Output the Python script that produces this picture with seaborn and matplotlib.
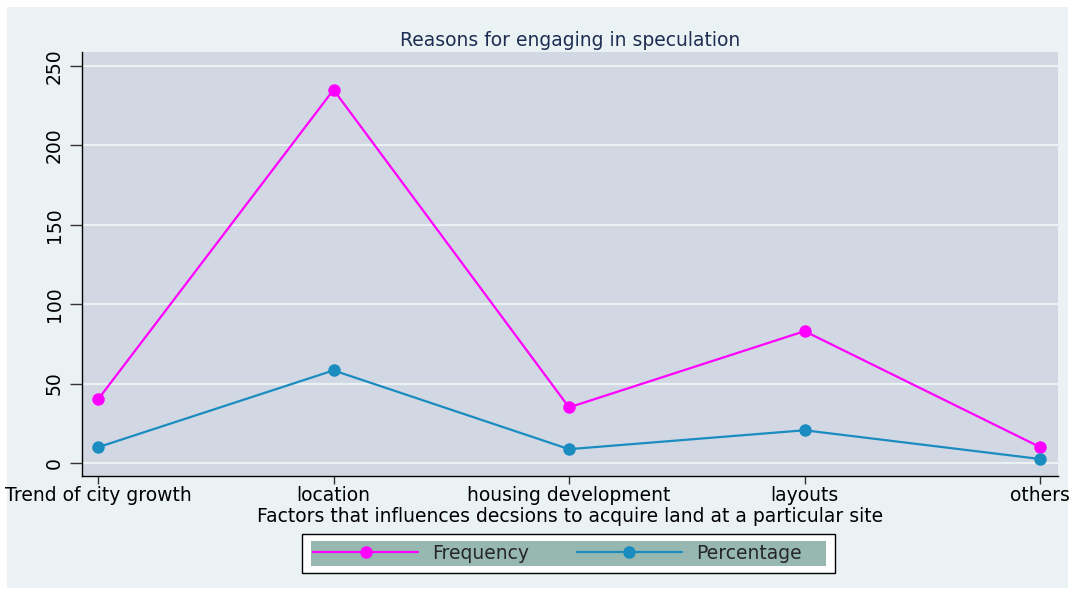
import matplotlib
matplotlib.use("Agg")
import matplotlib.pyplot as plt
from matplotlib.patches import Rectangle
from matplotlib.lines import Line2D
import seaborn as sns
import pandas as pd

# data
factors = ["Trend of city growth", "location", "housing development", "layouts", "others"]
frequency = [40, 235, 35, 83, 10]
percentage = [9.9, 58.3, 8.7, 20.6, 2.5]
series_names = ["Frequency", "Percentage"]
y_ticks = [0, 50, 100, 150, 200, 250]

df = pd.DataFrame({
    "factor": factors * 2,
    "value": frequency + percentage,
    "series": [series_names[0]] * len(factors) + [series_names[1]] * len(factors),
})

sns.set_theme(style="white")
plt.rcParams["font.family"] = ["DejaVu Sans"]
fs = 13.5

outer_bg = "#EAF2F3"
plot_bg = "#D1D8E3"
colors = {"Frequency": "#FF00FF", "Percentage": "#1A8CC0"}

fig = plt.figure(figsize=(10.75, 5.95), dpi=100)
fig.patch.set_facecolor("white")
fig.patches.append(Rectangle((7 / 1075, 7 / 595), 1061 / 1075, 581 / 595,
                             transform=fig.transFigure, facecolor=outer_bg,
                             edgecolor="none", zorder=-10))

ax = fig.add_axes([82 / 1075, 1 - 476 / 595, (1058 - 82) / 1075, (476 - 52) / 595])
ax.set_facecolor(plot_bg)

sns.lineplot(data=df, x="factor", y="value", hue="series", palette=colors,
             marker="o", markersize=9, markeredgewidth=0, linewidth=1.6,
             sort=False, ax=ax, legend=False)

ax.set_xlim(-0.068, 4.076)
ax.set_ylim(-8.2, 258.8)
ax.set_yticks(y_ticks)
ax.set_yticklabels([str(t) for t in y_ticks], rotation=90, va="center")
ax.grid(axis="y", color=outer_bg, linewidth=1.5)
ax.grid(axis="x", visible=False)
ax.set_axisbelow(True)

for s in ["top", "right"]:
    ax.spines[s].set_visible(False)
for s in ["left", "bottom"]:
    ax.spines[s].set_color("black")
    ax.spines[s].set_linewidth(1.0)

ax.tick_params(axis="both", which="major", width=1, color="#333333",
               labelsize=fs, labelcolor="black", bottom=True, left=True)
ax.tick_params(axis="x", length=6, pad=1.5)
ax.tick_params(axis="y", length=9, pad=4)

ax.set_xlabel("Factors that influences decsions to acquire land at a particular site",
              fontsize=fs, color="black", labelpad=1)
ax.set_ylabel("")
ax.set_title("Reasons for engaging in speculation", fontsize=fs,
             color="#1E2D53", pad=4)

# legend: white box with black border, coloured inner band
fig.patches.append(Rectangle((302 / 1075, 1 - 573 / 595), 533 / 1075, 39 / 595,
                             transform=fig.transFigure, facecolor="white",
                             edgecolor="black", linewidth=1, zorder=1))
fig.patches.append(Rectangle((311 / 1075, 1 - 566 / 595), 515 / 1075, 25 / 595,
                             transform=fig.transFigure, facecolor="#96B8B1",
                             edgecolor="none", zorder=1.5))
handles = [Line2D([0], [0], color=colors[n], marker="o", markersize=9,
                  markeredgewidth=0, linewidth=1.6) for n in series_names]
leg = fig.legend(handles, series_names, loc="center left",
                 bbox_to_anchor=(313 / 1075, 1 - 553.5 / 595),
                 ncol=2, frameon=False, fontsize=fs, handlelength=5.6,
                 handletextpad=0.75, columnspacing=2.55, borderpad=0,
                 borderaxespad=0, numpoints=1)
leg.set_zorder(2)

fig.savefig("out.png", dpi=100)
